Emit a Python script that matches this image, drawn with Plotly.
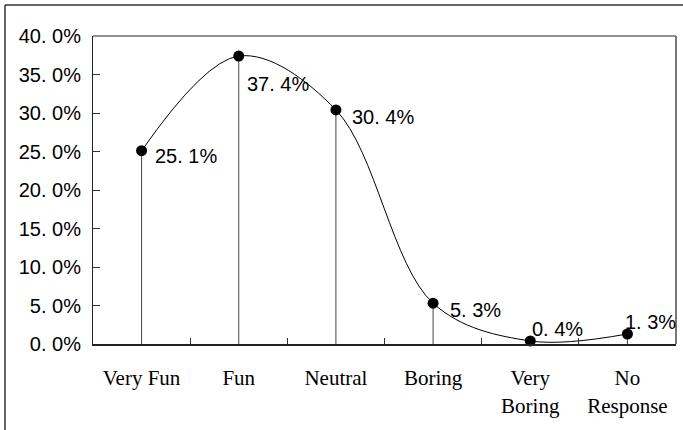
import plotly.graph_objects as go

categories = ["Very Fun", "Fun", "Neutral", "Boring", "Very<br>Boring", "No<br>Response"]
values = [25.1, 37.4, 30.4, 5.3, 0.4, 1.3]
labels = ["25. 1%", "37. 4%", "30. 4%", "5. 3%", "0. 4%", "1. 3%"]
tick_vals = [0, 5, 10, 15, 20, 25, 30, 35, 40]
tick_text = ["0. 0%", "5. 0%", "10. 0%", "15. 0%", "20. 0%", "25. 0%", "30. 0%", "35. 0%", "40. 0%"]

# label offsets (px) from each marker
label_dx = [11, 6, 14, 15, 0, -4]
label_dy = [-5, -28, -7, -7, 12, 12]

# plot area in pixels, used to place the outer frame in paper coords
W, H = 683, 430
L, R, T, B = 93, 7, 36, 86
pw, ph = W - L - R, H - T - B

fig = go.Figure()

fig.add_trace(go.Scatter(
    x=categories,
    y=values,
    mode='lines+markers',
    line=dict(shape='spline', smoothing=1.0, color='black', width=1),
    marker=dict(size=11, color='black'),
    error_y=dict(type='data', symmetric=False, array=[0] * len(values),
                 arrayminus=values, width=0, thickness=1, color='#444'),
    cliponaxis=False,
    showlegend=False,
))

for cat, val, lab, dx, dy in zip(categories, values, labels, label_dx, label_dy):
    fig.add_annotation(
        x=cat, y=val, text=lab, showarrow=False,
        xanchor='left', yanchor='middle', xshift=dx, yshift=dy,
        font=dict(family='Liberation Sans, Arial', size=20, color='black'),
    )

# outer frame: only top and left edges show in the picture
fx = (5 - L) / pw
fy_top = (T + ph - 5) / ph
fy_bot = (T + ph - H) / ph
fig.add_shape(type='line', xref='paper', yref='paper', x0=fx, x1=(W - L) / pw,
              y0=fy_top, y1=fy_top, line=dict(color='#333', width=1.5))
fig.add_shape(type='line', xref='paper', yref='paper', x0=fx, x1=fx,
              y0=fy_bot, y1=fy_top, line=dict(color='#333', width=1.5))

# border of the plot area
fig.add_shape(type='line', xref='paper', yref='paper', x0=0, x1=1, y0=1, y1=1,
              line=dict(color='#222', width=1))
fig.add_shape(type='line', xref='paper', yref='paper', x0=1, x1=1, y0=0, y1=1,
              line=dict(color='#777', width=2))

fig.update_layout(
    width=W, height=H,
    margin=dict(l=L, r=R, t=T, b=B),
    plot_bgcolor='white',
    paper_bgcolor='white',
    xaxis=dict(
        type='category',
        tickson='boundaries',
        ticks='inside', ticklen=6, tickcolor='#333',
        showgrid=False,
        showline=True, linecolor='#222', linewidth=2,
        automargin=False,
        ticklabelstandoff=14,
        tickfont=dict(family='Liberation Serif, Times New Roman', size=21, color='black'),
        range=[-0.5, 5.5],
    ),
    yaxis=dict(
        range=[0, 40],
        tickvals=tick_vals,
        ticktext=tick_text,
        ticks='inside', ticklen=7, tickcolor='#333',
        showgrid=False,
        zeroline=False,
        showline=True, linecolor='#222', linewidth=1,
        automargin=False,
        ticklabelstandoff=7,
        tickfont=dict(family='Liberation Sans, Arial', size=20, color='black'),
    ),
)

fig.write_html("out.html", config={'displayModeBar': False},
               post_script="document.body.style.margin='0';")
